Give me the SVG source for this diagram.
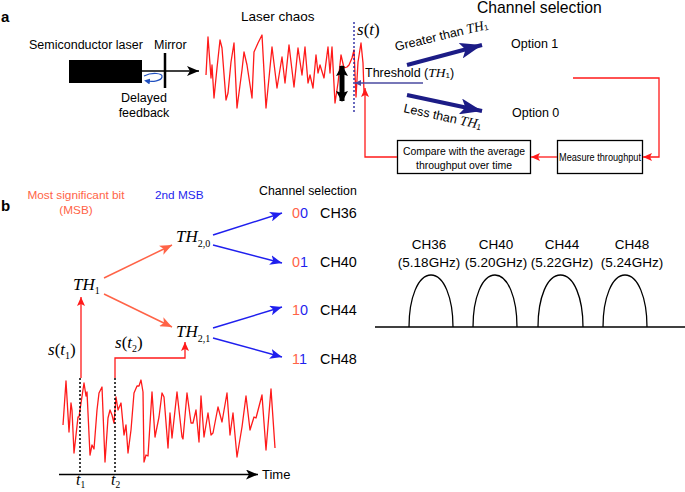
<svg xmlns="http://www.w3.org/2000/svg" width="685" height="492" viewBox="0 0 685 492">
<style>
.sans{font-family:"Liberation Sans",Arial,sans-serif;fill:#000}
.ser{font-family:"Liberation Serif","Times New Roman",serif;font-style:italic;fill:#000}
.wave{fill:none;stroke:#ff1a1a;stroke-width:1.3;stroke-linejoin:round}
.red{fill:none;stroke:#ff1a1a;stroke-width:1.3}
.sal{fill:none;stroke:#ff6347;stroke-width:1.5}
.blu{fill:none;stroke:#1f1fee;stroke-width:1.5}
.box{fill:#fff;stroke:#000;stroke-width:1.3}
.dot{fill:none;stroke:#000;stroke-width:1.5;stroke-dasharray:2,2}
</style>
<defs>
<marker id="mBlk" viewBox="0 0 12 10" refX="12" refY="5" markerWidth="12" markerHeight="10" orient="auto" markerUnits="userSpaceOnUse"><path d="M0,0 L12,5 L0,10 L3,5z" fill="#000"/></marker>
<marker id="mDbl" viewBox="0 0 11 12" refX="10" refY="6" markerWidth="11" markerHeight="12" orient="auto-start-reverse" markerUnits="userSpaceOnUse"><path d="M0,0 L11,6 L0,12 L2,6z" fill="#000"/></marker>
<marker id="mNavy" viewBox="0 0 22 16" refX="22" refY="8" markerWidth="22" markerHeight="16" orient="auto" markerUnits="userSpaceOnUse"><path d="M0,0 L22,8 L0,16 L5,8z" fill="#1c1c86"/></marker>
<marker id="mRed" viewBox="0 0 9 8" refX="9" refY="4" markerWidth="9" markerHeight="8" orient="auto" markerUnits="userSpaceOnUse"><path d="M0,0 L9,4 L0,8 L2,4z" fill="#ff1a1a"/></marker>
<marker id="mSal" viewBox="0 0 12 10" refX="12" refY="5" markerWidth="12" markerHeight="10" orient="auto" markerUnits="userSpaceOnUse"><path d="M0,0 L12,5 L0,10 L3,5z" fill="#ff6347"/></marker>
<marker id="mBlu" viewBox="0 0 12 10" refX="12" refY="5" markerWidth="12" markerHeight="10" orient="auto" markerUnits="userSpaceOnUse"><path d="M0,0 L12,5 L0,10 L3,5z" fill="#1f1fee"/></marker>
<marker id="mTh" viewBox="0 0 6 6" refX="0" refY="3" markerWidth="6" markerHeight="6" orient="auto" markerUnits="userSpaceOnUse"><path d="M6,0 L0,3 L6,6z" fill="#4a4aa0"/></marker>
<marker id="mBlueSm" viewBox="0 0 6 6" refX="3" refY="3" markerWidth="6" markerHeight="6" orient="auto" markerUnits="userSpaceOnUse"><path d="M0,0 L6,3 L0,6z" fill="#2050c0"/></marker>
</defs>

<!-- Panel labels -->
<text class="sans" x="1" y="22" font-size="15" font-weight="bold">a</text>
<text class="sans" x="1" y="211" font-size="15" font-weight="bold">b</text>

<!-- Part a nodes -->
<g id="laser">
<text class="sans" x="29" y="49" font-size="12.5">Semiconductor laser</text>
<rect x="69" y="60" width="73" height="23" fill="#000"/>
</g>
<g id="mirror">
<text class="sans" x="154" y="49" font-size="12.5">Mirror</text>
<line x1="165" y1="53" x2="165" y2="88" stroke="#000" stroke-width="2.5"/>
</g>
<g id="feedback">
<path d="M144,76 C152,72 163,73 162,77 C161,81 153,82 147,81" fill="none" stroke="#2050c0" stroke-width="1.2" marker-end="url(#mBlueSm)"/>
<text class="sans" x="144" y="102" font-size="12.5" text-anchor="middle">Delayed</text>
<text class="sans" x="144" y="117" font-size="12.5" text-anchor="middle">feedback</text>
</g>
<g id="chaos">
<text class="sans" x="241" y="21" font-size="13.5">Laser chaos</text>
<polyline class="wave" points="206,75 208,37 211,78 212,65 214,98 217,68 220,40 222,48 226,100 228,93 231,62 234,43 237,108 242,70 244,52 247,65 252,98 254,52 258,43 262,35 266,108 269,78 272,47 277,88 282,57 285,83 289,45 294,87 298,48 302,75 305,47 308,83 310,75 313,88 316,55 318,73 320,65 324,78 328,47 330,73 332,47 335,103 338,83 341,55 344,68 347,67 349,65 352,58 354,50 356,97 358,62 361,43 363,63 364,92"/>
<line x1="354" y1="22" x2="354" y2="114" stroke="#1a1a9a" stroke-width="1.3" stroke-dasharray="2,2"/>
<text class="ser" x="357" y="35" font-size="17"><tspan>s</tspan><tspan font-style="normal">(</tspan><tspan>t</tspan><tspan font-style="normal">)</tspan></text>
<line x1="342" y1="66" x2="342" y2="101" stroke="#000" stroke-width="5" marker-start="url(#mDbl)" marker-end="url(#mDbl)"/>
</g>
<g id="threshold">
<line x1="355" y1="83" x2="423" y2="83" stroke="#4a4aa0" stroke-width="1.5" marker-start="url(#mTh)"/>
<text class="sans" x="365" y="77" font-size="12.5">Threshold (<tspan class="ser" font-size="13.5">TH</tspan><tspan font-size="8" dy="1">1</tspan><tspan dy="-1">)</tspan></text>
</g>
<g id="title-channel">
<text class="sans" x="477" y="13" font-size="15.7">Channel selection</text>
</g>
<g id="option1">
<text class="sans" x="511" y="48" font-size="12.5">Option 1</text>
</g>
<g id="option0">
<text class="sans" x="512" y="117" font-size="12.5">Option 0</text>
</g>
<g id="compare">
<rect class="box" x="397.5" y="140.5" width="133" height="33"/>
<text class="sans" x="464" y="155" font-size="11" text-anchor="middle" textLength="122" lengthAdjust="spacingAndGlyphs">Compare with the average</text>
<text class="sans" x="464" y="169" font-size="11" text-anchor="middle" textLength="96" lengthAdjust="spacingAndGlyphs">throughput over time</text>
</g>
<g id="measure">
<rect class="box" x="557.5" y="140.5" width="85" height="33"/>
<text class="sans" x="600" y="161" font-size="11" text-anchor="middle" textLength="82" lengthAdjust="spacingAndGlyphs">Measure throughput</text>
</g>

<!-- Part a connectors -->
<g id="connectors-a">
<line x1="142" y1="71" x2="199" y2="71" stroke="#000" stroke-width="1.3" marker-end="url(#mBlk)"/>
<line x1="407" y1="65" x2="482" y2="45" stroke="#1c1c86" stroke-width="4" marker-end="url(#mNavy)"/>
<line x1="407" y1="95" x2="482" y2="111" stroke="#1c1c86" stroke-width="4" marker-end="url(#mNavy)"/>
<text class="sans" font-size="12.5" transform="translate(396,51) rotate(-13.5)">Greater than <tspan class="ser" font-size="13.5">TH</tspan><tspan font-size="8" dy="1">1</tspan></text>
<text class="sans" font-size="12.5" transform="translate(403,112) rotate(12.5)">Less than <tspan class="ser" font-size="13.5">TH</tspan><tspan font-size="8" dy="1">1</tspan></text>
<polyline class="red" points="573,78 659,78 659,157 643,157" marker-end="url(#mRed)"/>
<line class="red" x1="557" y1="157" x2="531" y2="157" marker-end="url(#mRed)"/>
<polyline class="red" points="397,157 365,157 365,88" marker-end="url(#mRed)"/>
</g>

<!-- Part b -->
<g id="legend-b">
<text class="sans" x="76" y="199" font-size="11.8" style="fill:#ff6347" text-anchor="middle">Most significant bit</text>
<text class="sans" x="76" y="214" font-size="11.8" style="fill:#ff6347" text-anchor="middle">(MSB)</text>
<text class="sans" x="155" y="199" font-size="11.8" style="fill:#1f1fee">2nd MSB</text>
<text class="sans" x="259" y="195" font-size="12.3">Channel selection</text>
</g>
<g id="TH1">
<text class="ser" x="73" y="290" font-size="17">TH<tspan font-style="normal" font-size="10" dy="4">1</tspan></text>
</g>
<g id="TH20">
<text class="ser" x="176" y="242" font-size="17">TH<tspan font-style="normal" font-size="10" dy="5">2,0</tspan></text>
</g>
<g id="TH21">
<text class="ser" x="176" y="337" font-size="17">TH<tspan font-style="normal" font-size="10" dy="5">2,1</tspan></text>
</g>
<g id="ch36"><text class="sans" x="292" y="218" font-size="14.4"><tspan style="fill:#ff6347">0</tspan><tspan style="fill:#1f1fee">0</tspan><tspan x="320">CH36</tspan></text></g>
<g id="ch40"><text class="sans" x="292" y="267" font-size="14.4"><tspan style="fill:#ff6347">0</tspan><tspan style="fill:#1f1fee">1</tspan><tspan x="320">CH40</tspan></text></g>
<g id="ch44"><text class="sans" x="292" y="315" font-size="14.4"><tspan style="fill:#ff6347">1</tspan><tspan style="fill:#1f1fee">0</tspan><tspan x="320">CH44</tspan></text></g>
<g id="ch48"><text class="sans" x="292" y="364" font-size="14.4"><tspan style="fill:#ff6347">1</tspan><tspan style="fill:#1f1fee">1</tspan><tspan x="320">CH48</tspan></text></g>

<g id="signal-b">
<polyline class="wave" points="63,425 66,381 69,432 71,403 72,410 74,453 78,417 79,417 80,410 84,383 86,396 87,392 90,455 92,445 94,449 97,410 99,393 102,387 105,462 108,418 110,410 112,415 114,423 116,397 118,410 121,403 124,435 126,425 128,453 131,430 134,393 137,386 139,386 141,380 143,392 144,462 146,455 148,456 152,392 155,437 159,417 162,393 164,397 168,448 170,413 172,438 177,392 182,437 183,439 187,393 191,423 193,423 196,410 199,442 201,396 204,437 208,413 211,435 213,433 218,407 222,422 227,393 230,435 233,413 237,457 242,427 246,396 250,430 254,417 256,418 262,395 266,450 271,389 275,448"/>
<line class="dot" x1="80" y1="378" x2="80" y2="474"/>
<line class="dot" x1="115" y1="378" x2="115" y2="474"/>
<line x1="59" y1="474.5" x2="258" y2="474.5" stroke="#000" stroke-width="1.3" marker-end="url(#mBlk)"/>
<text class="sans" x="262" y="479" font-size="13">Time</text>
<text class="ser" x="76" y="485" font-size="16">t<tspan font-style="normal" font-size="9.5" dy="3">1</tspan></text>
<text class="ser" x="111" y="485" font-size="16">t<tspan font-style="normal" font-size="9.5" dy="3">2</tspan></text>
<text class="ser" x="48" y="355" font-size="17">s<tspan font-style="normal">(</tspan>t<tspan font-style="normal" font-size="10" dy="4">1</tspan><tspan font-style="normal" dy="-4">)</tspan></text>
<text class="ser" x="115" y="348" font-size="17">s<tspan font-style="normal">(</tspan>t<tspan font-style="normal" font-size="10" dy="4">2</tspan><tspan font-style="normal" dy="-4">)</tspan></text>
</g>

<g id="connectors-b">
<line class="sal" x1="104" y1="278" x2="172" y2="245" marker-end="url(#mSal)"/>
<line class="sal" x1="104" y1="294" x2="172" y2="327" marker-end="url(#mSal)"/>
<line class="blu" x1="213" y1="235" x2="282" y2="213" marker-end="url(#mBlu)"/>
<line class="blu" x1="213" y1="245" x2="282" y2="263" marker-end="url(#mBlu)"/>
<line class="blu" x1="213" y1="328" x2="282" y2="307" marker-end="url(#mBlu)"/>
<line class="blu" x1="213" y1="338" x2="282" y2="357" marker-end="url(#mBlu)"/>
<line class="red" x1="81" y1="378" x2="81" y2="297" stroke-width="1.5" marker-end="url(#mRed)"/>
<polyline class="red" points="115,378 115,358 185,358 185,342" stroke-width="1.5" marker-end="url(#mRed)"/>
</g>

<!-- Spectrum -->
<g id="spectrum">
<line x1="375" y1="327" x2="685" y2="327" stroke="#000" stroke-width="1.3"/>
<g fill="none" stroke="#000" stroke-width="1.3">
<path d="M409,327 C409,298 418,275 431,275 C444,275 453,298 453,327"/>
<path d="M473,327 C473,298 482,275 495,275 C508,275 517,298 517,327"/>
<path d="M538,327 C538,298 547,275 560.5,275 C574,275 583,298 583,327"/>
<path d="M603,327 C603,298 612,275 625,275 C638,275 647,298 647,327"/>
</g>
<g class="sans" font-size="13.5" text-anchor="middle">
<text class="sans" x="429" y="249">CH36</text>
<text class="sans" x="429" y="267">(5.18GHz)</text>
<text class="sans" x="496" y="249">CH40</text>
<text class="sans" x="496" y="267">(5.20GHz)</text>
<text class="sans" x="562" y="249">CH44</text>
<text class="sans" x="562" y="267">(5.22GHz)</text>
<text class="sans" x="632" y="249">CH48</text>
<text class="sans" x="632" y="267">(5.24GHz)</text>
</g>
</g>
</svg>
